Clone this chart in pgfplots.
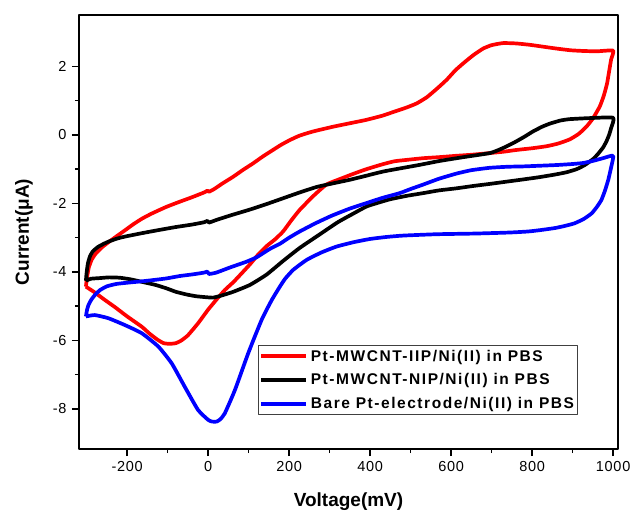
\documentclass[border=0pt]{standalone}
\usepackage{fontspec}
\setmainfont{Liberation Sans}
\newfontfamily\tickfont[LetterSpace=5]{Liberation Sans}
\newfontfamily\legfont[LetterSpace=10]{Liberation Sans}
\usepackage{pgfplots}
\pgfplotsset{compat=1.18}
\begin{document}
\begin{tikzpicture}
\begin{axis}[
  scale only axis, width=539pt, height=434pt,
  xmin=-319, xmax=1012, ymin=-9.17, ymax=3.5,
  xtick={-200,0,200,400,600,800,1000},
  ytick={-8,-6,-4,-2,0,2},
  minor x tick num=1, minor y tick num=1,
  xtick pos=left, ytick pos=left, tick align=outside,
  major tick length=7pt, minor tick length=4pt,
  every tick/.style={black, line width=1.5pt},
  axis line style={line width=1.8pt},
  /pgf/number format/assume math mode=true,
  /pgf/number format/set thousands separator={},
  ticklabel style={font=\tickfont\fontsize{14.5}{16}\selectfont},
  yticklabel style={xshift=-2pt},
  xticklabel style={yshift=-2pt},
  xlabel={Voltage(mV)},
  ylabel={Current(μA)},
  every axis x label/.style={at={(axis description cs:0.5,-0.1336)}, anchor=base, font=\bfseries\fontsize{19}{22}\selectfont},
  every axis y label/.style={at={(axis description cs:-0.102,0.5)}, rotate=90, anchor=center, font=\bfseries\fontsize{19}{22}\selectfont},
  legend style={at={(axis description cs:0.332,0.2396)}, anchor=north west,
    draw=black!75, line width=0.8pt, inner xsep=1pt, inner ysep=2pt,
    font=\legfont\bfseries\fontsize{15.5}{18}\selectfont,
    nodes={inner sep=2.5pt}, cells={anchor=west}, row sep=6pt},
  legend image code/.code={\draw[#1, line width=4pt] (0pt,0pt) -- (45pt,0pt);},
  line join=round,
]
\addplot[red, line width=3.7pt, smooth, tension=0.3] coordinates {
(-302,-4.43)(-299,-4.15)(-295,-3.88)(-288,-3.65)(-278,-3.47)(-262,-3.28)(-247,-3.14)(-225,-2.95)(-206,-2.79)(-185,-2.61)(-164,-2.45)(-140,-2.3)(-103,-2.1)(-70,-1.95)(-40,-1.82)(-10,-1.68)(-2,-1.63)(2,-1.66)(15,-1.58)(35,-1.42)(62,-1.22)(85,-1.03)(111,-0.83)(135,-0.63)(160,-0.44)(180,-0.29)(202,-0.15)(226,-0.02)(259,0.1)(309,0.24)(350,0.34)(391,0.44)(430,0.56)(460,0.68)(490,0.8)(515,0.92)(540,1.1)(565,1.35)(589,1.61)(610,1.88)(630,2.09)(655,2.33)(679,2.52)(700,2.62)(728,2.68)(760,2.67)(794,2.63)(830,2.57)(860,2.52)(895,2.47)(926,2.45)(960,2.44)(1000,2.46)
(995,2.2)(990,1.85)(985,1.5)(977,1.15)(967,0.83)(950,0.48)(934,0.24)(915,0.03)(893,-0.13)(865,-0.25)(836,-0.33)(800,-0.39)(761,-0.44)(730,-0.49)(696,-0.53)(650,-0.58)(613,-0.61)(570,-0.65)(531,-0.68)(490,-0.73)(460,-0.77)(430,-0.86)(391,-1.0)(360,-1.13)(325,-1.29)(292,-1.45)(260,-1.78)(226,-2.19)(205,-2.5)(185,-2.82)(165,-3.05)(144,-3.25)(123,-3.5)(103,-3.78)(82,-4.05)(62,-4.3)(41,-4.53)(21,-4.8)(0,-5.1)(-25,-5.5)(-50,-5.85)(-66,-6.0)(-80,-6.08)(-95,-6.1)(-110,-6.08)(-125,-5.98)(-145,-5.8)(-164,-5.6)(-200,-5.3)(-230,-5.03)(-255,-4.82)(-280,-4.6)(-302,-4.43)
};
\addlegendentry{Pt-MWCNT-IIP/Ni(II) in PBS}
\addplot[black, line width=3.7pt, smooth, tension=0.3] coordinates {
(-302,-4.26)(-300,-4.0)(-297,-3.75)(-292,-3.55)(-285,-3.40)(-272,-3.27)(-258,-3.18)(-247,-3.12)(-226,-3.03)(-206,-2.97)(-164,-2.87)(-123,-2.78)(-80,-2.69)(-41,-2.62)(-10,-2.55)(-2,-2.51)(2,-2.56)(21,-2.48)(58,-2.34)(103,-2.18)(144,-2.02)(185,-1.85)(226,-1.68)(268,-1.52)(310,-1.41)(350,-1.31)(391,-1.19)(432,-1.07)(473,-0.98)(520,-0.88)(572,-0.76)(630,-0.65)(696,-0.53)(725,-0.4)(753,-0.24)(780,-0.06)(802,0.10)(825,0.24)(844,0.33)(870,0.42)(893,0.46)(942,0.49)(1000,0.50)
(995,0.2)(990,0.0)(983,-0.2)(975,-0.37)(963,-0.55)(951,-0.7)(930,-0.88)(910,-1.0)(885,-1.09)(860,-1.15)(820,-1.23)(778,-1.3)(740,-1.36)(696,-1.43)(655,-1.49)(613,-1.56)(570,-1.62)(531,-1.70)(490,-1.78)(449,-1.88)(420,-1.98)(391,-2.09)(358,-2.3)(320,-2.55)(276,-2.9)(226,-3.3)(185,-3.68)(144,-4.08)(103,-4.38)(62,-4.58)(30,-4.7)(12,-4.75)(-4,-4.74)(-30,-4.71)(-53,-4.66)(-80,-4.58)(-103,-4.48)(-130,-4.38)(-160,-4.30)(-190,-4.22)(-218,-4.17)(-245,-4.16)(-267,-4.18)(-290,-4.2)(-302,-4.26)
};
\addlegendentry{Pt-MWCNT-NIP/Ni(II) in PBS}
\addplot[blue, line width=3.7pt, smooth, tension=0.3] coordinates {
(-302,-5.30)(-299,-5.1)(-295,-4.95)(-288,-4.8)(-278,-4.65)(-267,-4.53)(-250,-4.42)(-226,-4.35)(-195,-4.31)(-160,-4.27)(-130,-4.23)(-103,-4.19)(-70,-4.12)(-37,-4.07)(-10,-4.02)(-2,-3.99)(2,-4.06)(20,-4.02)(54,-3.87)(95,-3.70)(120,-3.57)(152,-3.33)(177,-3.18)(200,-3.0)(226,-2.82)(265,-2.58)(305,-2.36)(350,-2.15)(391,-1.99)(430,-1.84)(473,-1.70)(500,-1.58)(531,-1.45)(570,-1.28)(613,-1.13)(650,-1.03)(696,-0.96)(740,-0.93)(778,-0.92)(820,-0.9)(860,-0.88)(900,-0.85)(926,-0.82)(950,-0.76)(975,-0.68)(1000,-0.61)
(995,-0.95)(988,-1.31)(980,-1.62)(971,-1.90)(960,-2.1)(947,-2.29)(928,-2.45)(905,-2.58)(880,-2.66)(856,-2.72)(820,-2.78)(790,-2.82)(745,-2.85)(660,-2.88)(564,-2.90)(481,-2.94)(440,-2.98)(399,-3.04)(360,-3.13)(317,-3.26)(280,-3.43)(243,-3.65)(210,-3.94)(190,-4.2)(177,-4.43)(157,-4.82)(132,-5.40)(99,-6.37)(66,-7.45)(41,-8.13)(30,-8.3)(21,-8.37)(10,-8.37)(0,-8.32)(-25,-8.03)(-58,-7.35)(-90,-6.67)(-123,-6.18)(-164,-5.79)(-206,-5.55)(-247,-5.35)(-280,-5.26)(-302,-5.30)
};
\addlegendentry{Bare Pt-electrode/Ni(II) in PBS}
\end{axis}
\pgfresetboundingbox
\useasboundingbox (-79pt,-63pt) rectangle (552pt,449pt);
\end{tikzpicture}
\end{document}
